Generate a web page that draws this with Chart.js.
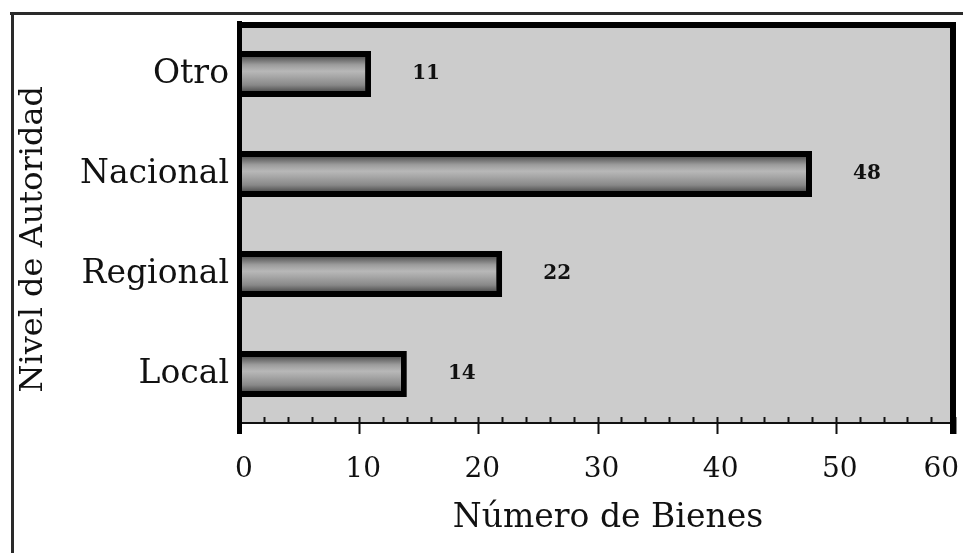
<!DOCTYPE html>
<html>
<head>
<meta charset="utf-8">
<script src="https://cdn.jsdelivr.net/npm/chart.js@4/dist/chart.umd.min.js"></script>
<style>
  html, body { margin: 0; padding: 0; background: #ffffff; }
  #wrap { position: relative; width: 963px; height: 553px; }
</style>
</head>
<body>
<div id="wrap"><canvas id="c" width="963" height="553"></canvas></div>
<script>
// ---- data ----
const categories = ['Otro', 'Nacional', 'Regional', 'Local'];
const values = [11, 48, 22, 14];
const xTickValues = [0, 10, 20, 30, 40, 50, 60];
const xTickLabels = ['0', '10', '20', '30', '40', '50', '60'];
const xTitle = 'Número de Bienes';
const yTitle = 'Nivel de Autoridad';

const SERIF = "'DejaVu Serif', serif";

function barGradient(c) {
  const chart = c.chart;
  const ys = chart.scales && chart.scales.y;
  if (!ys || c.dataIndex === undefined) return '#999999';
  const cy = ys.getPixelForValue(c.dataIndex);
  if (!isFinite(cy)) return '#999999';
  const h = 46;
  const g = chart.ctx.createLinearGradient(0, cy - h / 2, 0, cy + h / 2);
  g.addColorStop(0.00, '#3c3c3c');
  g.addColorStop(0.14, '#5c5c5c');
  g.addColorStop(0.30, '#9c9c9c');
  g.addColorStop(0.44, '#b8b8b8');
  g.addColorStop(0.56, '#a6a6a6');
  g.addColorStop(0.74, '#888888');
  g.addColorStop(0.87, '#555555');
  g.addColorStop(1.00, '#333333');
  return g;
}

const framePlugin = {
  id: 'framePlugin',
  beforeDraw(chart) {
    const ctx = chart.ctx;
    const a = chart.chartArea;
    ctx.save();
    // outer frame lines (top and left)
    ctx.strokeStyle = '#2a2a2a';
    ctx.lineWidth = 3;
    ctx.beginPath();
    ctx.moveTo(10, 13.5); ctx.lineTo(963, 13.5);
    ctx.moveTo(12.5, 12); ctx.lineTo(12.5, 553);
    ctx.stroke();
    // plot background
    ctx.fillStyle = '#cccccc';
    ctx.fillRect(a.left, a.top, a.right - a.left, a.bottom - a.top);
    ctx.restore();
  },
  afterDatasetsDraw(chart) {
    const ctx = chart.ctx;
    const a = chart.chartArea;
    const xs = chart.scales.x;
    ctx.save();
    // data labels
    ctx.fillStyle = '#111111';
    ctx.font = "bold 20px " + SERIF;
    ctx.textAlign = 'center';
    ctx.textBaseline = 'middle';
    const meta = chart.getDatasetMeta(0);
    meta.data.forEach((bar, i) => {
      ctx.fillText(String(chart.data.datasets[0].data[i]), bar.x + 55, bar.y);
    });
    // bottom axis line
    ctx.strokeStyle = '#111111';
    ctx.lineWidth = 2;
    ctx.beginPath();
    ctx.moveTo(a.left, a.bottom - 1); ctx.lineTo(a.right, a.bottom - 1);
    ctx.stroke();
    // minor / major tick marks
    ctx.beginPath();
    for (let v = 0; v <= 60; v += 2) {
      const px = Math.round(xs.getPixelForValue(v)) + 0.5;
      if (v % 10 === 0) {
        ctx.moveTo(px, a.bottom - 7); ctx.lineTo(px, a.bottom + 10);
      } else {
        ctx.moveTo(px, a.bottom - 7); ctx.lineTo(px, a.bottom);
      }
    }
    ctx.stroke();
    // thick plot borders: left axis, top, right
    ctx.strokeStyle = '#000000';
    ctx.lineWidth = 5;
    ctx.beginPath();
    ctx.moveTo(a.left - 0.5, a.top - 3); ctx.lineTo(a.left - 0.5, a.bottom + 10);
    ctx.stroke();
    ctx.lineWidth = 6;
    ctx.beginPath();
    ctx.moveTo(a.left - 3, a.top + 1); ctx.lineTo(a.right + 1, a.top + 1);
    ctx.moveTo(a.right - 2, a.top - 2); ctx.lineTo(a.right - 2, a.bottom + 10);
    ctx.stroke();
    ctx.restore();
  }
};

new Chart(document.getElementById('c'), {
  type: 'bar',
  data: {
    labels: categories,
    datasets: [{
      data: values,
      backgroundColor: barGradient,
      borderColor: '#000000',
      borderWidth: 6,
      borderSkipped: 'start',
      barPercentage: 0.46,
      categoryPercentage: 1.0
    }]
  },
  options: {
    indexAxis: 'y',
    responsive: false,
    animation: false,
    events: [],
    layout: { padding: { top: 24, left: 14, right: 8, bottom: 0 } },
    plugins: {
      legend: { display: false },
      tooltip: { enabled: false }
    },
    scales: {
      x: {
        type: 'linear',
        min: 0, max: 60,
        afterBuildTicks(scale) {
          scale.ticks = xTickValues.map(v => ({ value: v }));
        },
        afterFit(scale) {
          scale.height = 129;
          scale.paddingLeft = 0;
          scale.paddingRight = 0;
        },
        grid: { display: false },
        border: { display: false },
        ticks: {
          color: '#111111',
          font: { family: SERIF, size: 28 },
          padding: 21,
          maxRotation: 0,
          autoSkip: false,
          labelOffset: 4,
          callback(v) {
            const i = xTickValues.indexOf(v);
            const t = i >= 0 ? xTickLabels[i] : '';
            return i === xTickValues.length - 1 ? t + '    ' : t;
          }
        },
        title: {
          display: true,
          text: '  ' + xTitle,
          color: '#111111',
          font: { family: SERIF, size: 33 },
          padding: { top: 0, bottom: 15 }
        }
      },
      y: {
        afterFit(scale) {
          scale.width = 226;
          scale.paddingTop = 0;
          scale.paddingBottom = 0;
        },
        grid: { display: false },
        border: { display: false },
        ticks: {
          color: '#111111',
          font: { family: SERIF, size: 33 },
          padding: 3
        },
        title: {
          display: true,
          text: yTitle + '   ',
          color: '#111111',
          font: { family: SERIF, size: 32 },
          padding: { top: 0, bottom: 0 }
        }
      }
    }
  },
  plugins: [framePlugin]
});
</script>
</body>
</html>
